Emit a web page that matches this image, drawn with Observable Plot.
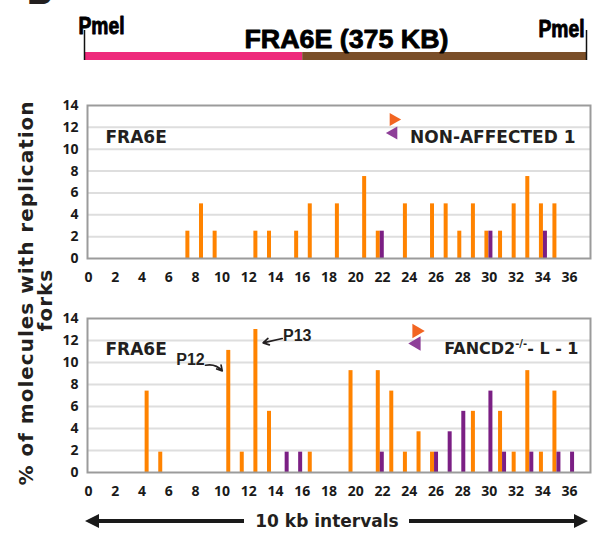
<!DOCTYPE html>
<html><head><meta charset="utf-8">
<script src="https://cdn.jsdelivr.net/npm/d3@7"></script>
<script src="https://cdn.jsdelivr.net/npm/@observablehq/plot@0.6"></script>
<style>
html,body{margin:0;padding:0;background:#fff;}
#wrap{position:relative;width:594px;height:533px;overflow:hidden;background:#fff;}
#wrap > svg{position:absolute;left:0;}
</style></head><body><div id="wrap"></div>
<script>
// ---------- data ----------
const xTickLabels = [0,2,4,6,8,10,12,14,16,18,20,22,24,26,28,30,32,34,36];
const yTickLabels = [0,2,4,6,8,10,12,14];
const gridLines = [2,4,6,8,10,12];

// header map (kb)
const regionStart = [0, 163];
const regionEnd = [163, 375];
const regionColor = ["#ee2a7b", "#7a4e28"];
const siteKb = [0, 375];
const siteName = ["Pmel", "Pmel"];
const mapTitle = "FRA6E (375 KB)";

// panel 1: NON-AFFECTED 1 (positions on the 0–36 interval axis, % values)
const naOrangePos = [7.40,8.42,9.44,12.49,13.51,15.54,16.56,18.59,20.63,21.65,23.68,25.71,26.73,27.75,28.77,29.78,30.80,31.82,32.84,33.86,34.87];
const naOrangeVal = [2.5,5,2.5,2.5,2.5,2.5,5,5,7.5,2.5,5,5,5,2.5,5,2.5,2.5,5,7.5,5,5];
const naPurplePos = [21.95,30.08,34.16];
const naPurpleVal = [2.5,2.5,2.5];

// panel 2: FANCD2-/- L - 1
const fdOrangePos = [4.35,5.37,10.46,11.47,12.49,13.51,16.56,19.61,21.65,22.66,23.68,24.70,25.71,28.77,30.80,31.82,32.84,33.86,34.87];
const fdOrangeVal = [7.4,1.85,11.1,1.85,13.0,5.56,1.85,9.26,9.26,7.4,1.85,3.7,1.85,5.56,5.56,1.85,9.26,1.85,7.4];
const fdPurplePos = [14.83,15.84,21.95,26.01,27.03,28.05,30.08,31.10,33.14,35.17,36.19];
const fdPurpleVal = [1.85,1.85,1.85,1.85,3.7,5.56,7.4,1.85,1.85,1.85,1.85];

// annotations (label + arrow) in panel 2, data units
const annLabel = ["P12", "P13"];
const annX = [7.63, 15.62], annY = [10.27, 12.39];
const annX1 = [8.76, 14.50], annY1 = [9.75, 12.18];
const annX2 = [10.01, 13.07], annY2 = [9.24, 11.78];
const annBend = [30, 0];

const ORANGE = "#ff8300", PURPLE = "#7b1f84";
const LEG_ORANGE = "#f26522", LEG_PURPLE = "#8e3f98";
const TXT = "#231f20";
const BOLD_SANS = "'DejaVu Sans', Verdana, sans-serif";

const wrap = document.getElementById("wrap");

// ---------- header ----------
const regions = regionStart.map((s,i)=>({start:s, end:regionEnd[i], color:regionColor[i]}));
const sites = siteKb.map((kb,i)=>({kb, name:siteName[i]}));
const HEAD_FONT = "'Liberation Sans', Arial, sans-serif";
const header = Plot.plot({
  width: 594, height: 70, marginTop: 52, marginBottom: 10, marginLeft: 84, marginRight: 8,
  x: {domain: [0, 375], axis: null},
  style: {background: "white", color: "#000", overflow: "visible"},
  marks: [
    Plot.barX(regions, {x1: "start", x2: "end", fill: "color"}),
    Plot.ruleX(siteKb, {stroke: "#111", strokeWidth: 1.5, insetTop: -22}),
    Plot.text([sites[0]], {x: "kb", text: "name", frameAnchor: "top", textAnchor: "start", dx: -6, dy: -35,
      fontFamily: HEAD_FONT, fontWeight: "bold", fontSize: 23, fill: "#000", stroke: "#000", strokeWidth: 0.9}),
    Plot.text([sites[1]], {x: "kb", text: "name", frameAnchor: "top", textAnchor: "end", dx: -2, dy: -32,
      fontFamily: HEAD_FONT, fontWeight: "bold", fontSize: 23, fill: "#000", stroke: "#000", strokeWidth: 0.9}),
    Plot.text([mapTitle], {frameAnchor: "top", dx: 11, dy: -23,
      fontFamily: HEAD_FONT, fontWeight: "bold", fontSize: 26, fill: "#000", stroke: "#000", strokeWidth: 0.8})
  ]
});
header.style.top = "0px";
wrap.appendChild(header);
// condense header labels to the reference's narrow face
d3.select(header).selectAll("text").each(function() {
  const s = this.textContent;
  if (s === "Pmel") d3.select(this).attr("textLength", 46).attr("lengthAdjust", "spacingAndGlyphs");
  if (s === mapTitle) d3.select(this).attr("textLength", 204).attr("lengthAdjust", "spacingAndGlyphs");
});

// ---------- panels ----------
function panel({top, height, marginTop, marginBottom, oPos, oVal, pPos, pVal, extra}) {
  const orange = oPos.map((x,i)=>({x, v:oVal[i]}));
  const purple = pPos.map((x,i)=>({x, v:pVal[i]}));
  const svg = Plot.plot({
    width: 594, height, marginLeft: 87, marginRight: 4, marginTop, marginBottom,
    x: {domain: [-0.075, 37.57]},
    y: {domain: [0, 14]},
    style: {fontFamily: "'Open Sans', sans-serif", fontSize: "14px", fontWeight: "bold", color: "#1a1a1a", background: "white", overflow: "visible"},
    marks: [
      Plot.ruleY(gridLines, {stroke: "#dedede", strokeWidth: 2}),
      Plot.ruleX(orange, {x: "x", y: "v", stroke: ORANGE, strokeWidth: 4}),
      Plot.ruleX(purple, {x: "x", y: "v", stroke: PURPLE, strokeWidth: 4}),
      Plot.frame({stroke: "#9b9b9b", strokeWidth: 2}),
      Plot.axisX({ticks: xTickLabels, tickSize: 0, tickPadding: 14, label: null}),
      Plot.axisY({ticks: yTickLabels, tickSize: 0, tickPadding: 9, label: null}),
      ...extra
    ]
  });
  svg.style.top = top + "px";
  wrap.appendChild(svg);
  return svg;
}

function legendMarks(dx, dyO, dyP, r) {
  return [
    Plot.dot([0], {frameAnchor: "top-right", dx, dy: dyO, symbol: "triangle", rotate: 90, r, fill: LEG_ORANGE, stroke: null}),
    Plot.dot([0], {frameAnchor: "top-right", dx, dy: dyP, symbol: "triangle", rotate: -90, r, fill: LEG_PURPLE, stroke: null})
  ];
}

panel({top: 95, height: 190, marginTop: 10, marginBottom: 27,
  oPos: naOrangePos, oVal: naOrangeVal, pPos: naPurplePos, pVal: naPurpleVal,
  extra: [
    Plot.text(["FRA6E"], {frameAnchor: "top-left", textAnchor: "start", dx: 18, dy: 25, fontFamily: BOLD_SANS, fontWeight: "bold", fontSize: 17, fill: TXT}),
    ...legendMarks(-197, 14, 27.5, 4.9),
    Plot.text(["NON-AFFECTED 1"], {frameAnchor: "top-right", textAnchor: "end", dx: -15, dy: 25, fontFamily: BOLD_SANS, fontWeight: "bold", fontSize: 17, fill: TXT})
  ]});

const anns = annLabel.map((t,i)=>({t, x:annX[i], y:annY[i], x1:annX1[i], y1:annY1[i], x2:annX2[i], y2:annY2[i]}));
const bottom = panel({top: 305, height: 200, marginTop: 13, marginBottom: 33,
  oPos: fdOrangePos, oVal: fdOrangeVal, pPos: fdPurplePos, pVal: fdPurpleVal,
  extra: [
    Plot.text(["FRA6E"], {frameAnchor: "top-left", textAnchor: "start", dx: 18, dy: 24, fontFamily: BOLD_SANS, fontWeight: "bold", fontSize: 17, fill: TXT}),
    ...legendMarks(-174, 12.5, 25, 5.3),
    Plot.text(["FANCD2-/-- L - 1"], {frameAnchor: "top-right", textAnchor: "end", dx: -12, dy: 24, fontFamily: BOLD_SANS, fontWeight: "bold", fontSize: 16, fill: TXT}),
    Plot.text(anns, {x: "x", y: "y", text: "t", fontFamily: "'Liberation Sans', Arial, sans-serif", fontWeight: "bold", fontSize: 16, fill: TXT}),
    Plot.arrow([anns[0]], {x1: "x1", y1: "y1", x2: "x2", y2: "y2", bend: annBend[0], headLength: 7, stroke: TXT, strokeWidth: 1.7}),
    Plot.arrow([anns[1]], {x1: "x1", y1: "y1", x2: "x2", y2: "y2", bend: annBend[1], headLength: 7, stroke: TXT, strokeWidth: 1.7})
  ]});

// superscript -/- in legend
d3.select(bottom).selectAll("text").each(function() {
  if (this.textContent === "FANCD2-/-- L - 1") {
    const t = d3.select(this);
    t.text(null);
    t.append("tspan").text("FANCD2");
    t.append("tspan").attr("dy", -7).attr("font-size", 10).text("-/-");
    t.append("tspan").attr("dy", 7).text("- L - 1");
  }
});

// ---------- overlay: y title, caption arrow, panel letter ----------
const ns = "http://www.w3.org/2000/svg";
const ov = d3.select(wrap).append("svg").attr("xmlns", ns)
  .attr("width", 594).attr("height", 533)
  .style("top", "0px").style("pointer-events", "none");
ov.append("text").attr("x", 26).attr("y", 4).attr("font-family", BOLD_SANS).attr("font-weight", "bold")
  .attr("font-size", 36).attr("fill", TXT).text("B");
const yt = ov.append("g").attr("font-family", BOLD_SANS).attr("font-weight", "bold").attr("font-size", 20)
  .attr("fill", TXT).attr("text-anchor", "middle");
yt.append("text").attr("transform", "translate(33,293) rotate(-90)").attr("letter-spacing", 1).text("% of molecules with replication");
yt.append("text").attr("transform", "translate(52,300) rotate(-90)").attr("letter-spacing", 1).text("forks");
// caption arrow
const cy = 521;
ov.append("line").attr("x1", 96).attr("x2", 244).attr("y1", cy).attr("y2", cy).attr("stroke", "#1a1a1a").attr("stroke-width", 4);
ov.append("line").attr("x1", 409).attr("x2", 577).attr("y1", cy).attr("y2", cy).attr("stroke", "#1a1a1a").attr("stroke-width", 4);
ov.append("path").attr("d", `M85,${cy} L99,${cy-7} L99,${cy+7} Z`).attr("fill", "#1a1a1a");
ov.append("path").attr("d", `M588,${cy} L574,${cy-7} L574,${cy+7} Z`).attr("fill", "#1a1a1a");
ov.append("text").attr("x", 327).attr("y", cy).attr("dy", "0.35em").attr("text-anchor", "middle")
  .attr("font-family", BOLD_SANS).attr("font-weight", "bold").attr("font-size", 17).attr("fill", TXT).text("10 kb intervals");
</script></body></html>
